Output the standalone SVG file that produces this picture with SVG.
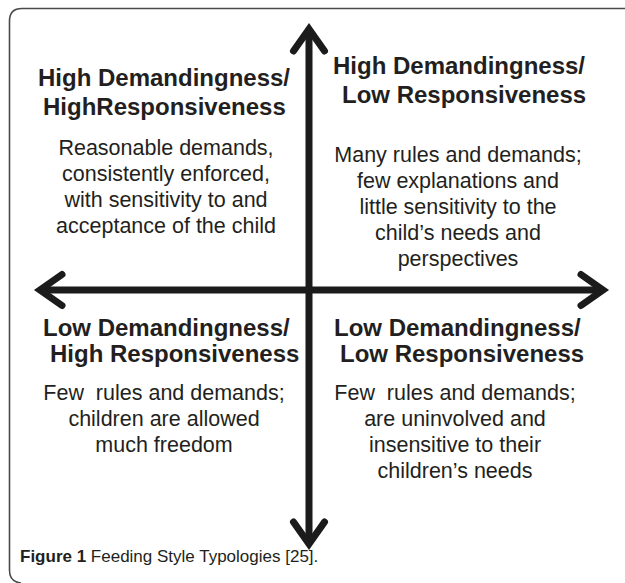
<svg xmlns="http://www.w3.org/2000/svg" width="625" height="583" viewBox="0 0 625 583">
  <style>
    .frame { fill: none; stroke: #4a4a4a; stroke-width: 1.6; }
    .axis { fill: none; stroke: #1b1b1b; stroke-width: 7; }
    .title { font-family: "Liberation Sans", Arial, Helvetica, sans-serif; font-weight: bold; font-size: 24px; fill: #231f20; }
    .body { font-family: "Liberation Sans", Arial, Helvetica, sans-serif; font-size: 21.5px; fill: #231f20; text-anchor: middle; }
    .caption { font-family: "Liberation Sans", Arial, Helvetica, sans-serif; font-size: 17px; fill: #231f20; }
  </style>
  <defs>
    <marker id="head" markerUnits="userSpaceOnUse" viewBox="-30 -20 36 40" refX="0" refY="0" markerWidth="36" markerHeight="40" orient="auto-start-reverse" overflow="visible">
      <path d="M-22,-15.5 L0,0 L-22,15.5" fill="none" stroke="#1b1b1b" stroke-width="7" stroke-linecap="round" stroke-linejoin="miter" stroke-miterlimit="6"/>
    </marker>
  </defs>
  <rect width="625" height="583" fill="#ffffff"/>

  <!-- open frame: top edge and left edge with rounded corners -->
  <path class="frame" d="M625,8.5 H22 Q9.5,8.5 9.5,21 V570 Q9.5,582 21,583"/>

  <!-- axes -->
  <g id="connectors">
    <line class="axis" x1="309" y1="29" x2="309" y2="544" marker-start="url(#head)" marker-end="url(#head)"/>
    <line class="axis" x1="40" y1="290" x2="603" y2="290" marker-start="url(#head)" marker-end="url(#head)"/>
  </g>

  <g id="high-demand-high-response">
    <text class="title" x="38" y="86">High Demandingness/</text>
    <text class="title" x="43" y="115">HighResponsiveness</text>
    <text class="body" x="166" y="155">Reasonable demands,</text>
    <text class="body" x="166" y="181">consistently enforced,</text>
    <text class="body" x="166" y="207">with sensitivity to and</text>
    <text class="body" x="166" y="233">acceptance of the child</text>
  </g>

  <g id="high-demand-low-response">
    <text class="title" x="333" y="74">High Demandingness/</text>
    <text class="title" x="342" y="103">Low Responsiveness</text>
    <text class="body" x="458" y="162">Many rules and demands;</text>
    <text class="body" x="458" y="188">few explanations and</text>
    <text class="body" x="458" y="214">little sensitivity to the</text>
    <text class="body" x="458" y="240">child’s needs and</text>
    <text class="body" x="458" y="266">perspectives</text>
  </g>

  <g id="low-demand-high-response">
    <text class="title" x="43" y="336">Low Demandingness/</text>
    <text class="title" x="50" y="362">High Responsiveness</text>
    <text class="body" x="164" y="400" xml:space="preserve">Few  rules and demands;</text>
    <text class="body" x="164" y="426">children are allowed</text>
    <text class="body" x="164" y="452">much freedom</text>
  </g>

  <g id="low-demand-low-response">
    <text class="title" x="334" y="336">Low Demandingness/</text>
    <text class="title" x="340" y="362">Low Responsiveness</text>
    <text class="body" x="455" y="400" xml:space="preserve">Few  rules and demands;</text>
    <text class="body" x="455" y="426">are uninvolved and</text>
    <text class="body" x="455" y="452">insensitive to their</text>
    <text class="body" x="455" y="478">children’s needs</text>
  </g>

  <text class="caption" x="20" y="562"><tspan font-weight="bold">Figure 1</tspan> Feeding Style Typologies [25].</text>
</svg>
